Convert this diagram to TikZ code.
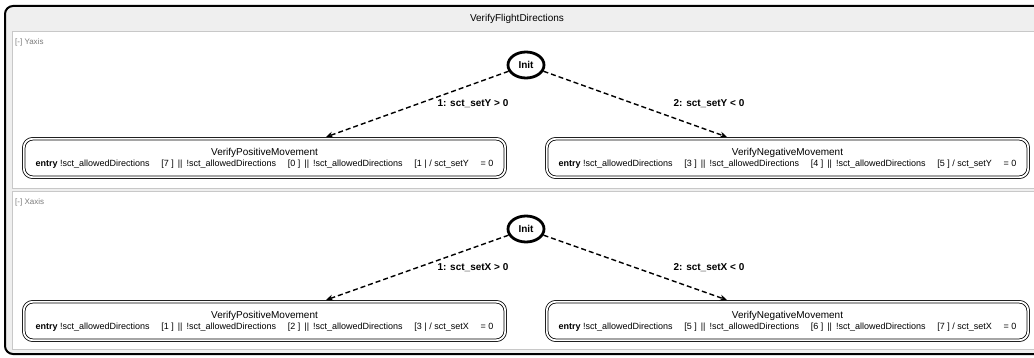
\documentclass[tikz,border=0pt]{standalone}
\usepackage{fontspec}
\setmainfont{Liberation Sans}
\usetikzlibrary{arrows.meta,shapes.geometric}
\definecolor{panelgrey}{HTML}{EFEFEF}
\definecolor{rulegrey}{HTML}{C8C8C8}
\definecolor{labelgrey}{HTML}{7C7C7C}

% entry action line of a state: three guarded indices and the axis setter
\newcommand{\entrytext}[4]{{\fontsize{9}{11}\selectfont\makebox[458pt]{\textbf{entry} !sct\_allowedDirections\hfill[#1 ] \,||\, !sct\_allowedDirections\hfill[#2 ] \,||\, !sct\_allowedDirections\hfill[#3 / sct\_set#4\hfill= 0}}}

\begin{document}
\begin{tikzpicture}[x=1pt,y=-1pt,
  frame/.style={draw=black,line width=2pt,fill=panelgrey,rounded corners=8pt},
  region/.style={draw=rulegrey,line width=1pt,fill=white},
  regionlabel/.style={anchor=west,text=labelgrey,font=\fontsize{8}{9}\selectfont,inner sep=0pt},
  titlelabel/.style={font=\fontsize{10}{12}\selectfont,inner sep=0pt},
  initstate/.style={ellipse,draw,line width=2.8pt,minimum width=36pt,minimum height=26pt,inner sep=0pt,font=\fontsize{10}{12}\selectfont\bfseries},
  state/.style={draw,double,double distance=1.8pt,line width=0.8pt,rounded corners=9pt,minimum width=481.5pt,minimum height=38.5pt,inner sep=0pt,align=center,font=\fontsize{10}{11}\selectfont},
  trans/.style={draw,dashed,dash pattern=on 5pt off 3pt,line width=1.4pt,-{Stealth[length=7pt,width=6pt]}},
  translabel/.style={font=\fontsize{10}{12}\selectfont\bfseries,inner sep=0pt}]

\useasboundingbox (0,0) rectangle (1034,358);
\clip (0,0) rectangle (1034,358);

% statechart frame and its title
\draw[frame] (5,6) rectangle (1050,354);
\node[titlelabel] (title) at (517,19) {VerifyFlightDirections};

% the two orthogonal regions
\draw[region] (12,32) rectangle (1045,189);
\draw[region] (12,192) rectangle (1045,349);
\node[regionlabel] (ylabel) at (15,42) {[-] Yaxis};
\node[regionlabel] (xlabel) at (15,202) {[-] Xaxis};

% Y axis region
\node[initstate] (yinit) at (526,65) {Init};
\node[state] (ypos) at (264.5,158) {VerifyPositiveMovement\\\entrytext{7}{0}{1 |}{Y}};
\node[state] (yneg) at (787.5,158) {VerifyNegativeMovement\\\entrytext{3}{4}{5 ]}{Y}};
\coordinate (ypin) at (326,137);
\coordinate (ynin) at (727,137);
\draw[trans] (yinit) -- (ypin);
\draw[trans] (yinit) -- (ynin);
\node[translabel] (ytp) at (473,104) {1: sct\_setY > 0};
\node[translabel] (ytn) at (709,104) {2: sct\_setY < 0};

% X axis region
\node[initstate] (xinit) at (526,229) {Init};
\node[state] (xpos) at (264.5,321) {VerifyPositiveMovement\\\entrytext{1}{2}{3 |}{X}};
\node[state] (xneg) at (787.5,321) {VerifyNegativeMovement\\\entrytext{5}{6}{7 ]}{X}};
\coordinate (xpin) at (326,300);
\coordinate (xnin) at (727,300);
\draw[trans] (xinit) -- (xpin);
\draw[trans] (xinit) -- (xnin);
\node[translabel] (xtp) at (473,268) {1: sct\_setX > 0};
\node[translabel] (xtn) at (709,268) {2: sct\_setX < 0};
\end{tikzpicture}
\end{document}
